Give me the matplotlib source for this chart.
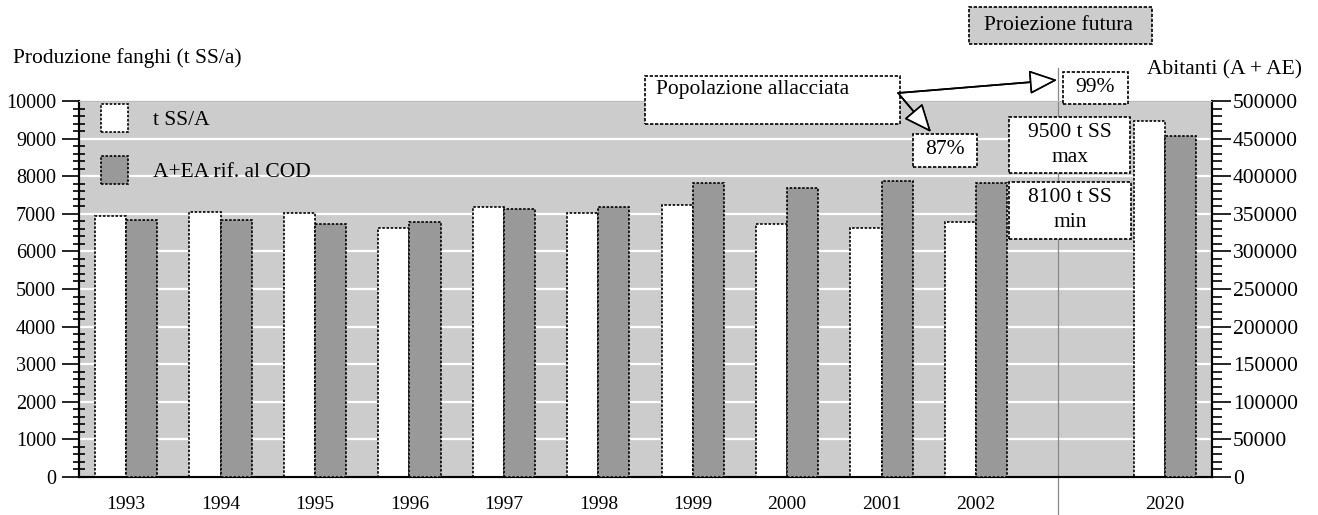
import numpy as np
import matplotlib.pyplot as plt
from matplotlib.patches import Rectangle

plt.rcParams["font.family"] = ["Liberation Serif", "DejaVu Serif"]

# data
years = ["1993", "1994", "1995", "1996", "1997", "1998", "1999", "2000", "2001", "2002", "2020"]
slot = [0, 1, 2, 3, 4, 5, 6, 7, 8, 9, 11]  # slot 10 is left empty
t_ss = [6940, 7040, 7030, 6620, 7170, 7030, 7230, 6730, 6620, 6780, 9470]
abitanti = [342000, 342000, 336000, 339000, 356000, 359000, 391500, 384000, 394000, 391500, 454000]

W, H = 1318, 515
fig = plt.figure(figsize=(W / 100, H / 100), dpi=100)
FS = 15.5


def fx(x):
    return x / W


def fy(y):
    return 1 - y / H


ax = fig.add_axes([fx(79), fy(477), fx(1212) - fx(79), fy(101) - fy(477)])
ax2 = ax.twinx()

edge_ls = (0, (1.5, 1))
bw = 0.33
pos = np.array(slot, dtype=float)
b1 = ax.bar(pos - bw / 2, t_ss, width=bw, color="white", edgecolor="black",
            linewidth=1.2, linestyle=edge_ls, label="t SS/A", zorder=3)
b2 = ax2.bar(pos + bw / 2, abitanti, width=bw, color="#999999", edgecolor="black",
             linewidth=1.2, linestyle=edge_ls, label="A+EA rif. al COD", zorder=3)

ax.set_facecolor("#cccccc")
ax.set_xlim(-0.5, 11.5)
ax.set_ylim(0, 10000)
ax2.set_ylim(0, 500000)
ax.set_yticks(np.arange(0, 10001, 1000))
ax.set_yticks(np.arange(0, 10001, 200), minor=True)
ax2.set_yticks(np.arange(0, 500001, 50000))
ax2.set_yticks(np.arange(0, 500001, 10000), minor=True)
ax.set_xticks(slot)
ax.set_xticklabels(years)

ax.grid(axis="y", which="major", color="white", linewidth=1.6, zorder=0)
ax.set_axisbelow(True)
ax.tick_params(axis="x", length=0, pad=14, labelsize=14)
ax.tick_params(axis="y", which="major", direction="out", length=12.5, width=1.2, pad=4, labelsize=14.5)
ax.tick_params(axis="y", which="minor", direction="inout", length=8.6, width=1.2)
ax2.tick_params(axis="y", which="major", direction="out", length=13.5, width=1.2, pad=1.5, labelsize=15.5)
ax2.tick_params(axis="y", which="minor", direction="out", length=7, width=1.2)

for a in (ax, ax2):
    a.spines["top"].set_color("#bbbbbb")
    a.spines["top"].set_linestyle((0, (2, 1)))
    a.spines["top"].set_linewidth(0.8)
    a.spines["left"].set_linewidth(1.5)
    a.spines["right"].set_linewidth(1.5)
    a.spines["bottom"].set_linewidth(1.5)

# dashed separator for the projection
ax.plot([9.87, 9.87], [-0.1, 1.088], transform=ax.get_xaxis_transform(),
        color="#888888", linewidth=0.9, clip_on=False, zorder=1)

ax2.legend([b1, b2], ["t SS/A", "A+EA rif. al COD"], loc="upper left",
           bbox_to_anchor=(0.0194, 0.992), frameon=False, fontsize=FS,
           handlelength=1.26, handleheight=1.6, labelspacing=1.15,
           handletextpad=1.16, borderpad=0, borderaxespad=0)

fig.text(fx(13), fy(58), "Produzione fanghi (t SS/a)", fontsize=FS, ha="left", va="center")
fig.text(fx(1302), fy(70), "Abitanti (A + AE)", fontsize=FS, ha="right", va="center")


def box(x0, y0, x1, y1, fc="white"):
    fig.add_artist(Rectangle((fx(x0), fy(y1)), fx(x1) - fx(x0), fy(y0) - fy(y1),
                             transform=fig.transFigure, facecolor=fc, edgecolor="black",
                             linewidth=1.2, linestyle=(0, (2, 1)), zorder=5))


box(969, 7, 1152, 44, fc="#cccccc")
fig.text(fx(1058), fy(25), "Proiezione futura", fontsize=FS, ha="center", va="center", zorder=6)

box(645, 76, 900, 124)
fig.text(fx(656), fy(89), "Popolazione allacciata", fontsize=FS, ha="left", va="center", zorder=6)

box(913, 134, 977, 167)
fig.text(fx(945), fy(150), "87%", fontsize=FS, ha="center", va="center", zorder=6)

box(1063, 72, 1128, 104)
fig.text(fx(1095), fy(88), "99%", fontsize=FS, ha="center", va="center", zorder=6)

box(1009, 117, 1130, 173)
fig.text(fx(1070), fy(145), "9500 t SS\nmax", fontsize=FS, ha="center", va="center",
         linespacing=1.45, zorder=6)

box(1009, 182, 1131, 239)
fig.text(fx(1070), fy(210), "8100 t SS\nmin", fontsize=FS, ha="center", va="center",
         linespacing=1.45, zorder=6)

arrow = dict(arrowstyle="-|>,head_length=1.75,head_width=0.75", facecolor="white",
             edgecolor="black", linewidth=1.2, shrinkA=0, shrinkB=0)
for tip in [(1057, 80), (931, 132)]:
    fig.add_artist(plt.annotate("", xy=(fx(tip[0]), fy(tip[1])), xytext=(fx(898), fy(93)),
                                xycoords="figure fraction", textcoords="figure fraction",
                                arrowprops=arrow, zorder=7))

plt.savefig("out.png", dpi=100)
